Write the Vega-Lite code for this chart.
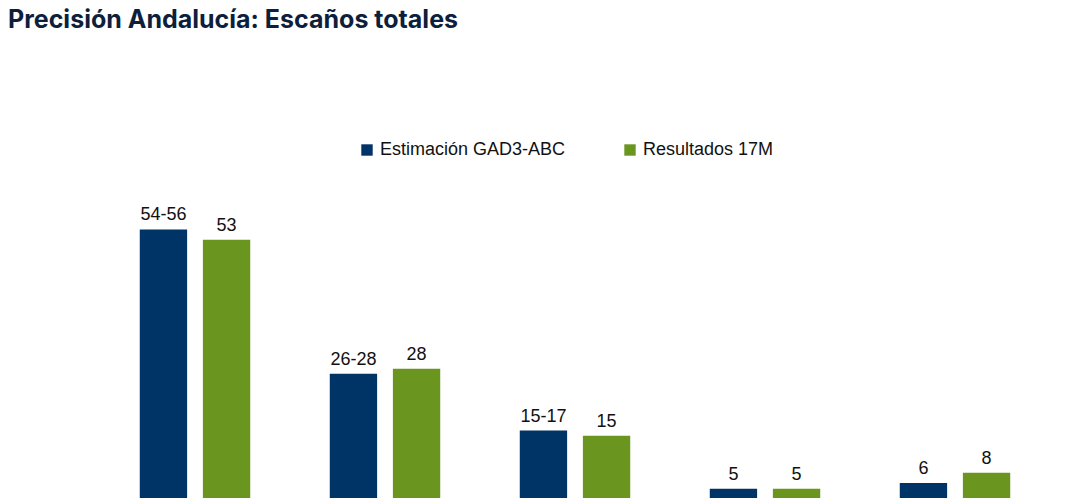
{
  "$schema": "https://vega.github.io/schema/vega-lite/v6.json",
  "width": 950,
  "height": 300,
  "padding": {"left": 8, "top": 8, "right": 15, "bottom": 10},
  "title": {
    "text": "Precisión Andalucía: Escaños totales",
    "anchor": "start",
    "frame": "group",
    "dx": -92,
    "fontSize": 25,
    "fontWeight": "bold",
    "font": "Inter",
    "color": "#0d1f3c",
    "offset": 108
  },
  "data": {
    "values": [
      {"party": "PP", "series": "Estimación GAD3-ABC", "value": 55, "label": "54-56"},
      {"party": "PP", "series": "Resultados 17M", "value": 53, "label": "53"},
      {"party": "PSOE", "series": "Estimación GAD3-ABC", "value": 27, "label": "26-28"},
      {"party": "PSOE", "series": "Resultados 17M", "value": 28, "label": "28"},
      {"party": "Vox", "series": "Estimación GAD3-ABC", "value": 16, "label": "15-17"},
      {"party": "Vox", "series": "Resultados 17M", "value": 15, "label": "15"},
      {"party": "Por Andalucía", "series": "Estimación GAD3-ABC", "value": 4.7, "label": "5"},
      {"party": "Por Andalucía", "series": "Resultados 17M", "value": 4.7, "label": "5"},
      {"party": "Adelante Andalucía", "series": "Estimación GAD3-ABC", "value": 5.8, "label": "6"},
      {"party": "Adelante Andalucía", "series": "Resultados 17M", "value": 7.8, "label": "8"}
    ]
  },
  "encoding": {
    "x": {
      "field": "party", "type": "nominal", "sort": null, "title": null,
      "scale": {"paddingInner": 0, "paddingOuter": 0},
      "axis": {"labelAngle": 0, "labelFontSize": 18, "labelColor": "#111", "labelFont": "Liberation Sans", "ticks": false, "domainColor": "#d5e0ea", "labelPadding": 14}
    },
    "xOffset": {"field": "series", "type": "nominal", "sort": null, "scale": {"paddingInner": 0.25, "paddingOuter": 0.63}},
    "y": {"field": "value", "type": "quantitative", "scale": {"domain": [0, 58.2]}, "axis": null}
  },
  "layer": [
    {
      "mark": {"type": "bar"},
      "encoding": {
        "color": {
          "field": "series", "type": "nominal", "sort": null,
          "scale": {"range": ["#003366", "#6a961f"]},
          "legend": {"orient": "none", "legendX": 258, "legendY": -72, "title": null, "direction": "horizontal", "symbolType": "square", "symbolSize": 130, "labelFontSize": 18, "labelFont": "Liberation Sans", "labelColor": "#111", "labelLimit": 400, "columnPadding": 55}
        }
      }
    },
    {
      "mark": {"type": "text", "dy": -14, "fontSize": 18, "font": "Liberation Sans", "color": "#111"},
      "encoding": {"text": {"field": "label"}}
    }
  ],
  "config": {"view": {"stroke": null}}
}
